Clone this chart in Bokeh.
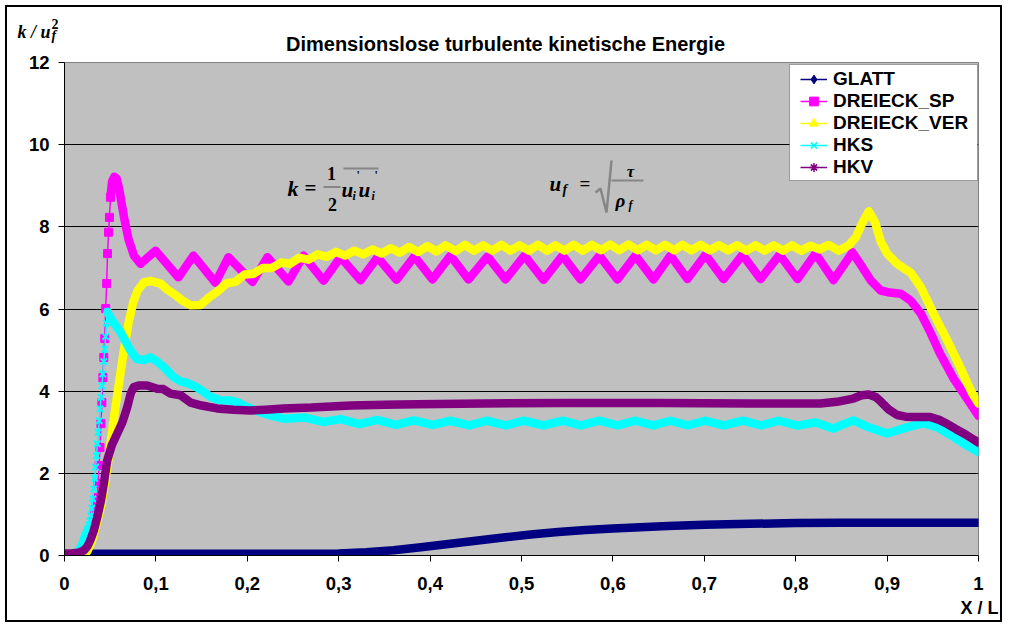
import numpy as np
from bokeh.plotting import figure
from bokeh.models import (Range1d, FixedTicker, Legend, LegendItem, Label,
                          BoxAnnotation, PolyAnnotation, InlineStyleSheet)
from bokeh.embed import file_html
from bokeh.resources import INLINE

# ---------------------------------------------------------------- data
x_ticks = [0, 0.1, 0.2, 0.3, 0.4, 0.5, 0.6, 0.7, 0.8, 0.9, 1]
x_tick_labels = ["0", "0,1", "0,2", "0,3", "0,4", "0,5", "0,6", "0,7", "0,8", "0,9", "1"]
y_ticks = [0, 2, 4, 6, 8, 10, 12]

series_names = ["GLATT", "DREIECK_SP", "DREIECK_VER", "HKS", "HKV"]

glatt_x = [0.000, 0.030, 0.100, 0.200, 0.250, 0.300, 0.330, 0.360, 0.390, 0.420,
           0.450, 0.480, 0.510, 0.540, 0.570, 0.600, 0.630, 0.660, 0.700, 0.750,
           0.800, 0.850, 0.900, 1.000]
glatt_k = [0.02, 0.04, 0.04, 0.04, 0.04, 0.05, 0.08, 0.13, 0.20, 0.28,
           0.36, 0.44, 0.51, 0.57, 0.62, 0.66, 0.69, 0.72, 0.75, 0.77,
           0.79, 0.80, 0.80, 0.80]

sp_x = [0.000, 0.010, 0.020, 0.026, 0.030, 0.033,
        0.0357, 0.0367, 0.0378, 0.0388, 0.0399, 0.0409, 0.0420, 0.0430, 0.0440,
        0.0451, 0.0461, 0.0471, 0.0482, 0.0492, 0.0503,
        0.052, 0.0545, 0.057, 0.060, 0.065, 0.070, 0.076,
        0.0832, 0.0996, 0.1247, 0.1411, 0.1652, 0.1794, 0.2057, 0.2221, 0.2451,
        0.2615, 0.2834, 0.3020, 0.3239, 0.3425, 0.3632, 0.3829, 0.4026, 0.4223,
        0.4420, 0.4628, 0.4825, 0.5033, 0.5241, 0.5449, 0.5646, 0.5853, 0.6050,
        0.6247, 0.6444, 0.6630, 0.6816, 0.7013, 0.7210, 0.7418, 0.7615, 0.7823,
        0.8020, 0.8217, 0.8414, 0.8621,
        0.872, 0.882, 0.893, 0.903, 0.915, 0.926, 0.937, 0.948, 0.958, 0.973,
        0.988, 1.000]
sp_k = [0.02, 0.03, 0.12, 0.35, 0.70, 1.10,
        1.41, 1.75, 2.19, 2.63, 3.21, 3.72, 4.33, 4.82, 5.28,
        6.01, 6.62, 7.35, 7.87, 8.23, 8.72,
        9.10, 9.22, 9.18, 8.90, 8.25, 7.70, 7.30,
        7.10, 7.42, 6.77, 7.30, 6.64, 7.26, 6.66, 7.26, 6.67,
        7.30, 6.69, 7.26, 6.70, 7.26, 6.71, 7.28, 6.72, 7.30,
        6.72, 7.28, 6.72, 7.30, 6.71, 7.30, 6.72, 7.30, 6.72,
        7.30, 6.72, 7.30, 6.73, 7.32, 6.73, 7.32, 6.73, 7.32,
        6.73, 7.35, 6.70, 7.38,
        7.05, 6.70, 6.45, 6.40, 6.37, 6.20, 5.89, 5.40, 4.91, 4.30,
        3.80, 3.40]

ver_x = [0.000, 0.015, 0.025, 0.030, 0.035, 0.040, 0.045, 0.050, 0.055, 0.060,
         0.065, 0.070, 0.075, 0.080, 0.087, 0.095, 0.105, 0.112, 0.120, 0.128,
         0.138, 0.149, 0.158, 0.167, 0.177, 0.187, 0.197, 0.207, 0.217, 0.227,
         0.237, 0.247, 0.257, 0.267, 0.277, 0.287, 0.297, 0.307, 0.317, 0.327,
         0.337, 0.347, 0.357, 0.367, 0.377, 0.387, 0.397, 0.407, 0.417, 0.428,
         0.438, 0.448, 0.458, 0.468, 0.478, 0.488, 0.498, 0.508, 0.518, 0.528,
         0.537, 0.547, 0.557, 0.567, 0.577, 0.587, 0.597, 0.607, 0.617, 0.627,
         0.637, 0.647, 0.657, 0.667, 0.676, 0.686, 0.696, 0.706, 0.716, 0.726,
         0.736, 0.746, 0.756, 0.766, 0.776, 0.786, 0.796, 0.806, 0.816, 0.826,
         0.836, 0.847, 0.858, 0.866, 0.873, 0.880, 0.887, 0.893, 0.900, 0.911,
         0.926, 0.937, 0.951, 0.966, 0.980, 0.993, 1.000]
ver_k = [0.02, 0.03, 0.10, 0.35, 0.75, 1.20, 1.85, 2.65, 3.50, 4.25,
         5.00, 5.65, 6.15, 6.45, 6.65, 6.68, 6.62, 6.48, 6.36, 6.22,
         6.09, 6.10, 6.28, 6.42, 6.62, 6.66, 6.84, 6.86, 7.00, 7.00,
         7.13, 7.10, 7.25, 7.20, 7.33, 7.27, 7.39, 7.30, 7.42, 7.33,
         7.45, 7.35, 7.48, 7.37, 7.51, 7.39, 7.53, 7.40, 7.55, 7.41,
         7.56, 7.42, 7.55, 7.42, 7.56, 7.42, 7.55, 7.42, 7.56, 7.42,
         7.55, 7.42, 7.56, 7.42, 7.56, 7.43, 7.57, 7.43, 7.57, 7.43,
         7.56, 7.43, 7.56, 7.43, 7.56, 7.43, 7.56, 7.43, 7.55, 7.43,
         7.55, 7.42, 7.55, 7.42, 7.55, 7.42, 7.55, 7.42, 7.54, 7.45,
         7.56, 7.42, 7.55, 7.75, 8.10, 8.38, 8.10, 7.65, 7.35, 7.10,
         6.88, 6.53, 5.88, 5.23, 4.58, 3.95, 3.70]

hks_x = [0.000, 0.010, 0.015, 0.019, 0.022, 0.024,
         0.026, 0.027, 0.028, 0.029, 0.030, 0.031, 0.032, 0.033, 0.034, 0.035,
         0.036, 0.037, 0.038, 0.039, 0.040, 0.041, 0.042, 0.043, 0.044, 0.045,
         0.046, 0.047,
         0.052, 0.061, 0.067, 0.072, 0.0795, 0.087, 0.094, 0.100, 0.108, 0.1195,
         0.127, 0.134, 0.141, 0.150, 0.160, 0.170, 0.182, 0.190, 0.200, 0.213,
         0.225, 0.240, 0.262, 0.283, 0.302, 0.323, 0.342, 0.363, 0.382, 0.403,
         0.422, 0.443, 0.462, 0.483, 0.503, 0.524, 0.545, 0.565, 0.585, 0.605,
         0.625, 0.644, 0.663, 0.682, 0.701, 0.721, 0.742, 0.762, 0.782, 0.802,
         0.822, 0.841, 0.863, 0.880, 0.900, 0.922, 0.940, 0.955, 0.973, 0.987,
         1.000]
hks_k = [0.02, 0.04, 0.10, 0.25, 0.45, 0.55,
         0.66, 0.74, 0.84, 0.97, 1.15, 1.38, 1.62, 1.88, 2.15, 2.43,
         2.72, 3.00, 3.28, 3.57, 3.85, 4.13, 4.42, 4.72, 5.02, 5.33,
         5.65, 5.93,
         5.72, 5.45, 5.20, 5.00, 4.78, 4.76, 4.82, 4.74, 4.60, 4.34,
         4.24, 4.20, 4.14, 4.02, 3.86, 3.78, 3.77, 3.72, 3.61, 3.50,
         3.41, 3.33, 3.36, 3.25, 3.32, 3.20, 3.30, 3.18, 3.29, 3.18,
         3.28, 3.17, 3.28, 3.17, 3.28, 3.17, 3.28, 3.17, 3.28, 3.17,
         3.28, 3.17, 3.28, 3.17, 3.28, 3.17, 3.28, 3.17, 3.28, 3.16,
         3.24, 3.09, 3.29, 3.12, 2.97, 3.12, 3.22, 3.12, 2.88, 2.68,
         2.52]

hkv_x = [0.000, 0.007, 0.015, 0.021, 0.025, 0.028, 0.032, 0.0358, 0.040, 0.043,
         0.0467, 0.052, 0.0577, 0.0635, 0.0686, 0.0725, 0.0758, 0.082, 0.0905, 0.1014,
         0.108, 0.116, 0.127, 0.138, 0.150, 0.167, 0.185, 0.2035, 0.220, 0.240,
         0.270, 0.313, 0.350, 0.386, 0.458, 0.550, 0.650, 0.750, 0.800, 0.827,
         0.845, 0.863, 0.872, 0.880, 0.888, 0.893, 0.902, 0.911, 0.920, 0.929,
         0.947, 0.957, 0.966, 0.975, 0.984, 0.992, 1.000]
hkv_k = [0.05, 0.05, 0.07, 0.12, 0.22, 0.36, 0.60, 0.93, 1.35, 1.75,
         2.31, 2.70, 2.97, 3.25, 3.61, 3.95, 4.10, 4.14, 4.14, 4.06,
         4.05, 3.94, 3.90, 3.72, 3.65, 3.58, 3.55, 3.53, 3.55, 3.58,
         3.60, 3.65, 3.67, 3.68, 3.70, 3.71, 3.71, 3.70, 3.70, 3.70,
         3.74, 3.82, 3.90, 3.92, 3.85, 3.75, 3.55, 3.42, 3.38, 3.37,
         3.37, 3.30, 3.20, 3.08, 2.97, 2.86, 2.75]

# ---------------------------------------------------------------- layout
W, H = 1009, 628
FL, FR, FT, FB = 64, 978, 62, 555          # plot frame edges on the canvas
SERIF = "Liberation Serif"
SANS = "Liberation Sans"
TEXT_RAISE = 6                              # baseline correction for labels


def dx(px):
    return (px - FL) / (FR - FL)


def dy(py):
    return (FB - py) / (FB - FT) * 12.0


p = figure(width=W, height=H, output_backend="svg", toolbar_location=None,
           title=None, x_range=Range1d(0, 1), y_range=Range1d(0, 12),
           min_border_left=FL, min_border_right=W - FR,
           min_border_top=FT, min_border_bottom=H - FB,
           background_fill_color="#C0C0C0", border_fill_color="white",
           outline_line_color="#808080", outline_line_width=1)
# black frame around the whole chart
p.stylesheets = [InlineStyleSheet(css=(
    ":host { position: relative; }"
    ":host::after { content: ''; position: absolute; left: 5px; top: 5px;"
    " right: 7px; bottom: 6px; border: 2px solid black;"
    " pointer-events: none; z-index: 1000; }"))]

p.xgrid.visible = False
p.ygrid.ticker = FixedTicker(ticks=y_ticks)
p.ygrid.grid_line_color = "black"
p.ygrid.grid_line_width = 1

p.xaxis.ticker = FixedTicker(ticks=x_ticks)
p.xaxis.major_label_overrides = dict(zip(x_ticks, x_tick_labels))
p.yaxis.ticker = FixedTicker(ticks=y_ticks)
for ax in (p.xaxis[0], p.yaxis[0]):
    ax.axis_line_color = "black"
    ax.major_tick_line_color = "black"
    ax.major_tick_in = 0
    ax.major_tick_out = 6
    ax.minor_tick_line_color = None
    ax.major_label_text_font = SANS
    ax.major_label_text_font_style = "bold"
    ax.major_label_text_font_size = "18.5px"
    ax.major_label_text_color = "black"
p.yaxis.major_label_standoff = 9
p.xaxis.major_label_standoff = 15

# ---------------------------------------------------------------- series
styles = {
    "GLATT":       dict(color="#000080", marker="diamond",  size=10, span=None),
    "DREIECK_SP":  dict(color="#FF00FF", marker="square",   size=8,  span=(0.0357, 0.0503)),
    "DREIECK_VER": dict(color="#FFFF00", marker="triangle", size=9,  span=None),
    "HKS":         dict(color="#00FFFF", marker="x",        size=9,  span=(0.026, 0.047)),
    "HKV":         dict(color="#800080", marker="asterisk", size=10, span=None),
}
data = {
    "GLATT": (glatt_x, glatt_k),
    "DREIECK_SP": (sp_x, sp_k),
    "DREIECK_VER": (ver_x, ver_k),
    "HKS": (hks_x, hks_k),
    "HKV": (hkv_x, hkv_k),
}

legend_items = []
for name in series_names:
    st = styles[name]
    xs = np.asarray(data[name][0], dtype=float)
    ks = np.asarray(data[name][1], dtype=float)
    c = st["color"]
    # thin connecting line, then the dense band of overlapping markers
    p.line(xs, ks, line_color=c, line_width=1.5)
    band = ks.copy()
    if st["span"] is not None:
        lo, hi = st["span"]
        band[(xs > lo) & (xs < hi)] = np.nan
    p.line(xs, band, line_color=c, line_width=8.5, line_join="round", line_cap="round")
    if st["span"] is not None:
        lo, hi = st["span"]
        m = (xs >= lo) & (xs <= hi)
        if st["marker"] in ("x", "asterisk"):
            p.scatter(xs[m], ks[m], marker=st["marker"], size=st["size"],
                      line_color=c, line_width=2)
        else:
            p.scatter(xs[m], ks[m], marker=st["marker"], size=st["size"],
                      fill_color=c, line_color=c)
    # legend key: thin line with one marker
    lr = p.line(xs, ks, line_color=c, line_width=1.5, visible=False)
    if st["marker"] in ("x", "asterisk"):
        mr = p.scatter(xs, ks, marker=st["marker"], size=st["size"],
                       line_color=c, line_width=1.5, visible=False)
    else:
        mr = p.scatter(xs, ks, marker=st["marker"], size=st["size"],
                       fill_color=c, line_color=c, visible=False)
    legend_items.append(LegendItem(label=name, renderers=[lr, mr]))

# ---------------------------------------------------------------- legend
p.add_layout(BoxAnnotation(left=dx(789), right=dx(977), top=dy(64), bottom=dy(180),
                           fill_color="white", fill_alpha=1.0,
                           line_color="black", line_width=1))
legend = Legend(items=legend_items, location=(800 - FL, FB - 178),
                border_line_alpha=0, background_fill_alpha=0,
                padding=0, spacing=0, margin=0,
                label_height=22, glyph_height=22, glyph_width=27, label_standoff=6,
                label_text_font=SANS, label_text_font_style="bold",
                label_text_font_size="19px", label_text_color="black")
p.add_layout(legend)


# ---------------------------------------------------------------- texts
def txt(px, py, s, size, style="bold", font=SANS, align="left", place=None):
    lab = Label(x=dx(px), y=dy(py - TEXT_RAISE), text=s, text_font=font,
                text_font_style=style, text_font_size=f"{size}px",
                text_align=align, text_baseline="alphabetic",
                text_color="black")
    if place is None:
        p.add_layout(lab)
    else:
        p.add_layout(lab, place)


def stroke(pts, width=1.5):
    xs = [dx(a) for a, _ in pts]
    ys = [dy(b) for _, b in pts]
    xs = xs + xs[-2:0:-1]
    ys = ys + ys[-2:0:-1]
    p.add_layout(PolyAnnotation(xs=xs, ys=ys, fill_alpha=0,
                                line_color="black", line_width=width))


# texts outside the plot area live in the side panels
txt(505, 49, "Dimensionslose turbulente kinetische Energie", 20, align="center", place="above")
txt(17, 37, "k / u", 18, "bold italic", SERIF, place="above")
txt(51, 29, "2", 14, "bold", SERIF, place="left")
txt(51, 41, "f", 14, "bold italic", SERIF, place="left")
txt(979, 613, "X / L", 18, align="center", place="below")

# k = 1/2 * mean(u_i' u_i')
txt(287, 194, "k", 22, "bold italic", SERIF)
txt(304, 193, "=", 21, "bold", SERIF)
txt(331, 179, "1", 18, "bold", SERIF, "center")
stroke([(323, 186.5), (340, 186.5)], 2)
txt(332, 210, "2", 18, "bold", SERIF, "center")
txt(341, 195, "u", 21, "bold italic", SERIF)
txt(352, 201, "i", 12, "bold italic", SERIF)
txt(358, 195, "u", 21, "bold italic", SERIF)
txt(371, 201, "i", 12, "bold italic", SERIF)
txt(356, 180, "'", 12, "bold", SERIF)
txt(374, 180, "'", 12, "bold", SERIF)
stroke([(343, 168), (378, 168)], 2)

# u_f = sqrt(tau / rho_f)
txt(549, 189, "u", 21, "bold italic", SERIF)
txt(562, 195, "f", 14, "bold italic", SERIF)
txt(579, 189, "=", 19, "bold", SERIF)
stroke([(595, 192), (600, 188), (606, 212), (611, 160)], 2.5)
txt(630, 177, "τ", 17, "bold italic", SERIF, "center")
stroke([(611, 180), (643, 180)], 2)
txt(620, 206, "ρ", 19, "bold italic", SERIF, "center")
txt(628, 210, "f", 12, "bold italic", SERIF)

open("out.html", "w").write(file_html(p, INLINE))
